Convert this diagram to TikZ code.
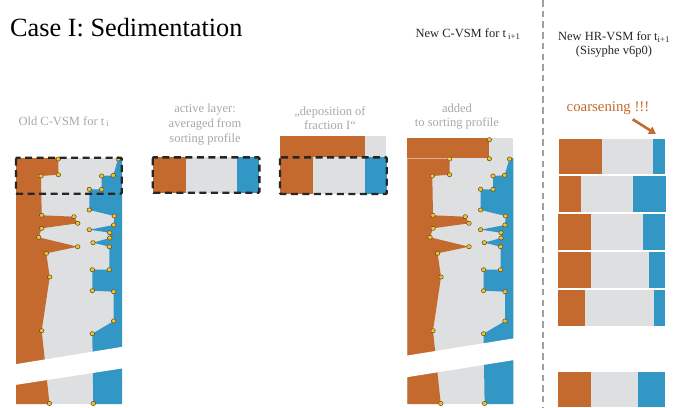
\documentclass[tikz,border=0pt]{standalone}
\usepackage{fontspec}
\setmainfont{Liberation Serif}
\usetikzlibrary{arrows.meta}
\definecolor{cOr}{HTML}{C46A2F}
\definecolor{cBl}{HTML}{3397C5}
\definecolor{cGr}{HTML}{DEDFE1}
\definecolor{cDot}{HTML}{F5C22A}
\definecolor{cDotE}{HTML}{5A4A25}
\definecolor{cLab}{HTML}{A8A8A8}
\definecolor{cDash}{HTML}{262626}
\definecolor{cSep}{HTML}{A0A0A0}
\tikzset{
  vdot/.style={fill=cDot, draw=cDotE, line width=0.5pt},
  dbox/.style={draw=cDash, line width=2.4pt, dash pattern=on 7pt off 4.5pt, rounded corners=1pt},
  glabel/.style={text=cLab, font=\fontsize{12.5}{15}\selectfont, inner sep=0pt, anchor=base},
  blabel/.style={text=black!85, font=\fontsize{12.5}{15}\selectfont, inner sep=0pt, anchor=base},
}
\newcommand\vsmcol[5]{%
\begin{scope}[xshift=#1]
 \fill[cGr] (16,158) rectangle (122,404);
 \fill[cOr] (16,158) -- (58.3,158) -- (58.3,174.7) -- (41,176) -- (41.7,215.3) -- (74,216.7) -- (77.7,223.3) -- (41.7,228.3) -- (38.7,237.3) -- (77.7,246.7) -- (46.3,253.3) -- (49.7,277) -- (41.7,330.7) -- (49.5,404) -- (16,404) -- cycle;
 \fill[cBl] (118.3,158) -- (113.3,175.3) -- (101.7,176) -- (101.7,189.3) -- (89.3,189.3) -- (89.3,210) -- (114.3,216) -- (113.7,225) -- (89.3,229.7) -- (109.7,232.7) -- (109.7,238) -- (93,242.7) -- (109.3,246.7) -- (109.3,269.7) -- (92.3,269.7) -- (92.3,290.7) -- (113.7,291.7) -- (113.7,321) -- (92.3,333.7) -- (93.3,404) -- (122,404) -- (122,158) -- cycle;
 \fill[white] (15,#2) -- (123,#3) -- (123,#5) -- (15,#4) -- cycle;
 \foreach \p in {(58.3,159),(58.3,174.7),(41,176),(41.7,215.3),(74,216.7),(77.7,223.3),(41.7,228.3),(38.7,237.3),(77.7,246.7),(46.3,253.3),(49.7,277),(41.7,330.7),(49.5,403.5),
   (118.3,159),(113.3,175.3),(101.7,176),(101.7,189.3),(89.3,189.3),(89.3,210),(114.3,216),(113.7,225),(89.3,229.7),(109.7,232.7),(109.7,238),(93,242.7),(109.3,246.7),(109.3,269.7),(92.3,269.7),(92.3,290.7),(113.7,291.7),(113.7,321),(92.3,333.7),(93.3,403.5)}
   \draw[vdot] \p circle[x radius=2.3pt, y radius=2.1pt];
\end{scope}}
\newcommand\hrbar[6]{%
 \fill[cOr] (#3,#1) rectangle (#4,#2);
 \fill[cGr] (#4,#1) rectangle (#5,#2);
 \fill[cBl] (#5,#1) rectangle (#6,#2);}
\begin{document}
\begin{tikzpicture}[x=1pt,y=-1pt]
\useasboundingbox (0,0) rectangle (680,407);
% title
\node[anchor=base west, inner sep=0pt, font=\fontsize{26.3}{30}\selectfont] (title) at (10,36.7) {Case I: Sedimentation};
% old C-VSM
\node[glabel] (lold) at (64,125) {Old C-VSM for t\,\textsubscript{i}};
\vsmcol{0pt}{364.3}{346.7}{385}{368.3}
\draw[dbox] (16,157.7) rectangle (121.7,193.7);
% active layer
\node[glabel] (la1) at (205,112.7) {active layer:};
\node[glabel] (la2) at (205,127.5) {averaged from};
\node[glabel] (la3) at (205,142.5) {sorting profile};
\fill[cOr] (152.7,157.3) rectangle (186,192.7);
\fill[cGr] (186,157.3) rectangle (237.3,192.7);
\fill[cBl] (237.3,157.3) rectangle (259.3,192.7);
\draw[dbox] (152.7,157.3) rectangle (259.3,192.7);
% deposition
\node[glabel] (ld1) at (330,115) {„deposition of};
\node[glabel] (ld2) at (330,129.5) {fraction I“};
\fill[cOr] (280,136) rectangle (365,157.3);
\fill[cGr] (365,136) rectangle (386,157.3);
\fill[cOr] (280,157.3) rectangle (312.7,194);
\fill[cGr] (312.7,157.3) rectangle (365,194);
\fill[cBl] (365,157.3) rectangle (386.7,194);
\draw[dbox] (280,157.3) rectangle (386.7,194);
% new C-VSM
\node[blabel] (lnew) at (468,37.5) {New C-VSM for t\,\textsubscript{i+1}};
\node[glabel] (lad1) at (457,112.3) {added};
\node[glabel] (lad2) at (457,126.7) {to sorting profile};
\fill[cOr] (407.3,137.7) rectangle (489.3,158.6);
\fill[cGr] (489.3,137.7) rectangle (513.3,158.6);
\vsmcol{391.3pt}{355.7}{338.3}{377.3}{360}
\draw[white, opacity=0.45, line width=0.7pt] (407.3,158.6) -- (449.7,158.6);
\draw[vdot] (489.3,139.7) circle[x radius=2.3pt, y radius=2.1pt];
\draw[vdot] (489.3,158.7) circle[x radius=2.3pt, y radius=2.1pt];
% separator
\draw[cSep, line width=2.2pt, dash pattern=on 6.5pt off 4.2pt] (542.7,0) -- (542.7,407);
% HR-VSM
\node[blabel] (lhr1) at (614,40.5) {New HR-VSM for t\textsubscript{i+1}};
\node[blabel] (lhr2) at (614,54) {(Sisyphe v6p0)};
\node[text=cOr, inner sep=0pt, anchor=base, font=\fontsize{14.8}{17}\selectfont] (coarse) at (608,111) {coarsening !!!};
\coordinate (ca) at (632.7,119.3);
\coordinate (cb) at (656,134);
\draw[cOr, line width=2.6pt, -{Triangle[length=7pt,width=8pt]}] (ca) -- (cb);
\hrbar{139}{174}{559}{602}{653}{665}
\hrbar{176}{211.7}{559}{581}{633}{666}
\hrbar{214}{249.7}{558}{591}{643}{665}
\hrbar{252}{287.7}{558}{591}{649}{665}
\hrbar{290}{325.7}{558}{585}{654}{665}
\hrbar{372}{407}{558}{591}{638}{665}
\end{tikzpicture}
\end{document}
